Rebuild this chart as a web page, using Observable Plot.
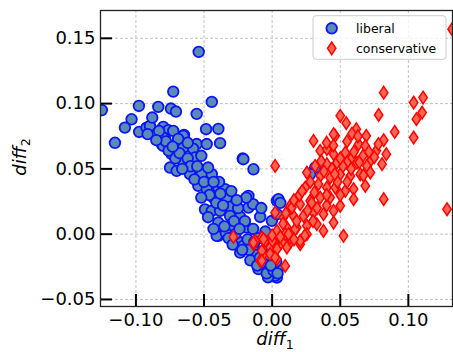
<!DOCTYPE html>
<html>
<head>
<meta charset="utf-8">
<script src="https://cdn.jsdelivr.net/npm/d3@7"></script>
<script src="https://cdn.jsdelivr.net/npm/@observablehq/plot@0.6"></script>
<style>
  html, body { margin: 0; padding: 0; background: white; }
  svg { display: block; }
</style>
</head>
<body>
<div id="chart"></div>
<script>
// ---- data ----
const seriesNames = ["liberal", "conservative"];
const xTicks = [-0.10, -0.05, 0.00, 0.05, 0.10];
const yTicks = [-0.05, 0.00, 0.05, 0.10, 0.15];

const libX = [-0.125,-0.1154,-0.0978,-0.1032,-0.1081,-0.0976,-0.0922,-0.0897,-0.0914,-0.088,
  -0.0836,-0.0743,-0.0706,-0.0726,-0.0539,-0.0443,-0.0554,-0.0799,-0.0762,-0.0726,
  -0.0647,-0.0787,-0.0485,-0.0395,-0.0811,-0.0701,-0.064,-0.0554,-0.048,-0.0382,
  -0.0216,-0.0137,-0.080,-0.080,-0.0737,-0.0701,-0.0652,-0.0652,-0.058,-0.075,
  -0.0701,-0.0652,-0.0566,-0.0603,-0.0517,-0.0443,-0.0211,-0.0542,-0.048,-0.0395,
  -0.0346,-0.0432,-0.0333,-0.0174,-0.0493,-0.0443,-0.0382,-0.0309,-0.0174,-0.0088,
  -0.0235,-0.0309,0.0035,-0.0395,-0.0309,-0.0186,-0.0395,-0.0255,-0.0212,-0.0137,
  -0.0064,-0.0015,-0.004,0.0035,0.0046,-0.0002,-0.0015,0.0022,-0.0064,-0.01,
  -0.0235,-0.0407,0.006,0.0316,0.028,0.0035,0.0022,-0.083,-0.078,-0.076,
  -0.071,-0.068,-0.062,-0.060,-0.066,-0.055,-0.057,-0.050,-0.046,-0.052,
  -0.041,-0.036,-0.047,-0.043,-0.034,-0.028,-0.025,-0.020,-0.014,-0.027,
  -0.018,-0.010,-0.005,-0.012,-0.017,-0.006,0.000,0.002,-0.003,0.004,
  -0.008,0.001,-0.030,-0.039,-0.062,-0.069,-0.047,-0.043,-0.014,-0.008,-0.032,
  -0.022,-0.016,-0.011,-0.004,0.001,0.003,-0.002,-0.013,-0.029,-0.035,
  -0.024,-0.019,-0.026,-0.038,-0.052,-0.073,-0.085,-0.009,-0.001,0.004];
const libY = [0.095,0.070,0.0982,0.0880,0.0816,0.0783,0.0816,0.0829,0.0766,0.0893,
  0.0975,0.0962,0.0939,0.1092,0.1396,0.1013,0.0921,0.0822,0.0796,0.0791,
  0.0760,0.0735,0.0804,0.0806,0.069,0.069,0.069,0.069,0.069,0.0697,
  0.0579,0.0497,0.074,0.0676,0.0613,0.0676,0.0663,0.0753,0.0655,0.051,
  0.0485,0.0548,0.0587,0.0459,0.0459,0.0459,0.0574,0.037,0.0345,0.0357,
  0.0345,0.028,0.028,0.0293,0.019,0.0178,0.0178,0.0209,0.0204,0.0132,
  0.0132,0.014,0.0255,0.0089,0.0064,0.0051,-0.0013,-0.0051,-0.009,-0.009,
  -0.0128,-0.0204,-0.0281,-0.0332,0.0268,0.0102,-0.0306,-0.0319,-0.0243,-0.0268,
  -0.0141,-0.0013,0.024,0.051,0.046,0.0153,-0.0294,0.079,0.071,0.064,
  0.058,0.062,0.058,0.052,0.050,0.052,0.042,0.040,0.030,0.028,
  0.024,0.022,0.013,0.004,0.001,0.010,0.020,0.010,0.004,0.0,
  -0.004,-0.003,0.002,-0.016,-0.012,-0.018,-0.012,-0.024,-0.033,-0.027,
  -0.022,-0.005,0.033,0.040,0.070,0.073,0.051,0.040,0.023,0.020,-0.003,
  -0.012,-0.020,-0.024,-0.030,-0.028,-0.021,-0.016,-0.006,-0.008,0.006,
  0.004,0.028,0.026,0.031,0.060,0.067,0.072,-0.018,-0.024,-0.030];

const conX = [0.0819,0.1039,0.1108,0.1101,0.1059,0.1039,0.050,0.0544,0.0782,0.090,
  0.0618,0.0586,0.0691,0.0463,0.0304,0.0819,0.0635,0.0684,0.0353,0.0402,
  0.0451,0.0537,0.0586,0.0765,0.0838,0.0667,0.0721,0.0022,0.0255,0.0402,
  0.0476,0.055,0.0623,0.0696,0.0807,0.0353,0.0426,0.050,0.0574,0.0647,
  0.0721,0.0243,0.034,0.0402,0.0463,0.0537,0.0598,0.0684,0.0598,0.0819,
  0.1284,0.0132,0.0206,0.0279,0.0353,0.0426,0.050,0.0083,0.0157,0.023,
  0.0304,0.0377,0.0451,0.0451,0.0524,0.0022,0.0035,0.0108,0.0181,0.0255,
  0.0328,0.0377,0.0059,0.0132,0.0206,0.1321,0.0451,0.0316,0.0145,-0.0076,
  -0.0137,-0.0064,-0.0088,-0.0015,0.0022,0.0083,0.0132,0.0206,0.0255,0.0096,
  0.0035,-0.0285,-0.0125,-0.0051,0.0096,0.0169,-0.0076,-0.0015,0.0035,0.0108,
  -0.0076,0.0022,-0.0137,-0.0064,0.0002,0.028,0.031,0.020,0.038,0.044,
  0.048,0.055,0.052,0.060,0.064,0.067,0.058,0.050,0.040,0.033,
  0.026,0.018,0.012,0.008,0.016,0.022,0.040,0.030,0.024,0.0,
  0.045,0.055,0.040,0.063,0.036,0.071,0.075,0.078,0.050,0.046,
  0.029,0.010,0.006,0.016];
const conY = [0.1084,0.1008,0.1046,0.0931,0.0881,0.074,0.0906,0.085,0.0913,0.0783,
  0.0804,0.077,0.0753,0.0753,0.0714,0.072,0.0689,0.0676,0.0638,0.0651,
  0.0613,0.0625,0.0587,0.0638,0.0613,0.060,0.0561,0.0523,0.0472,0.0536,
  0.0548,0.0548,0.0548,0.0523,0.0536,0.0446,0.0433,0.0459,0.0446,0.0459,
  0.0472,0.0357,0.0383,0.0357,0.0357,0.0332,0.0345,0.037,0.0268,0.0268,
  0.0191,0.0217,0.023,0.0255,0.028,0.028,0.0217,0.0127,0.014,0.014,
  0.0165,0.0153,0.0178,0.0089,-0.0013,0.0165,0.0025,0.0051,0.0051,0.0064,
  0.0077,0.0025,-0.0077,-0.0064,-0.0077,0.157,0.0766,0.0523,0.0204,-0.0026,
  -0.0077,-0.0153,-0.0204,-0.0102,-0.0077,-0.0051,-0.0026,-0.0051,0.0,-0.0243,
  -0.0191,-0.0021,-0.0051,-0.0051,0.0,0.0038,-0.0128,-0.0153,-0.0115,-0.0102,
  -0.0204,-0.0179,-0.0064,-0.0038,-0.0051,0.040,0.032,0.030,0.048,0.050,
  0.040,0.040,0.052,0.063,0.055,0.045,0.050,0.030,0.022,0.020,
  0.018,0.010,0.000,0.008,0.026,0.033,0.030,0.010,-0.001,-0.001,
  0.068,0.071,0.070,0.075,0.056,0.063,0.059,0.069,0.058,0.046,
  0.024,0.016,-0.002,-0.004];

const liberal = libX.map((x, i) => ({x, y: libY[i]}));
const conservative = conX.map((x, i) => ({x, y: conY[i]}));

// ---- styles ----
const libFill = "#5b8bb5", libStroke = "#0a14ff";
const conFill = "#fa6450", conStroke = "#ff0000";
const fmt = d3.format(".2f");

const thinDiamond = {
  draw(ctx, size) {
    const r = Math.sqrt(size / Math.PI);
    const w = r * 0.7, h = r * 1.05;
    ctx.moveTo(0, -h); ctx.lineTo(w, 0); ctx.lineTo(0, h); ctx.lineTo(-w, 0); ctx.closePath();
  }
};

const W = 453, H = 352, mL = 100, mR = 1, mT = 10, mB = 46;
const plotH = H - mT - mB, plotW = W - mL - mR;
const gridStyle = {stroke: "#b0b0b0", strokeOpacity: 1, strokeDasharray: "3,2", strokeWidth: 0.8};

const chart = Plot.plot({
  width: W, height: H,
  marginLeft: mL, marginRight: mR, marginTop: mT, marginBottom: mB,
  style: {fontFamily: "DejaVu Sans", fontSize: "18px", background: "white", color: "black"},
  x: {domain: [-0.126, 0.1324], label: null},
  y: {domain: [-0.0554, 0.1713], label: null},
  marks: [
    Plot.gridX(xTicks, gridStyle),
    Plot.gridY(yTicks, gridStyle),
    Plot.dot(liberal, {x: "x", y: "y", r: 5.3, fill: libFill, stroke: libStroke, strokeWidth: 1.8, clip: true}),
    Plot.dot(conservative, {x: "x", y: "y", r: 6, symbol: thinDiamond, fill: conFill, stroke: conStroke, strokeWidth: 1.5, clip: true}),
    Plot.tickX(xTicks, {x: d => d, insetTop: plotH - 12, stroke: "black", strokeWidth: 2}),
    Plot.tickY(yTicks, {y: d => d, insetRight: plotW - 12, stroke: "black", strokeWidth: 2}),
    Plot.axisX(xTicks, {tickSize: 0, tickPadding: 7, tickFormat: fmt, fontSize: 18, fill: "black"}),
    Plot.axisY(yTicks, {tickSize: 0, tickPadding: 5, tickFormat: fmt, fontSize: 18, fill: "black"}),
    Plot.frame({stroke: "#222", strokeWidth: 1.3})
  ]
});

document.getElementById("chart").appendChild(chart);

// ---- axis labels and legend ----
const svg = d3.select(chart);
const xl = svg.append("text").attr("x", 275).attr("y", 345)
  .attr("text-anchor", "middle").attr("font-size", 18).attr("font-style", "italic")
  .attr("font-family", "DejaVu Sans").attr("fill", "black");
xl.append("tspan").text("diff");
xl.append("tspan").attr("font-size", 12.6).attr("dy", 4).attr("font-style", "normal").text("1");

const yl = svg.append("text").attr("transform", "translate(26,157) rotate(-90)")
  .attr("text-anchor", "middle").attr("font-size", 18).attr("font-style", "italic")
  .attr("font-family", "DejaVu Sans").attr("fill", "black");
yl.append("tspan").text("diff");
yl.append("tspan").attr("font-size", 12.6).attr("dy", 4).attr("font-style", "normal").text("2");

const lg = svg.append("g").attr("text-anchor", "start");
lg.append("rect").attr("x", 313).attr("y", 15.7).attr("width", 133).attr("height", 43.6)
  .attr("rx", 3).attr("fill", "white").attr("fill-opacity", 0.8).attr("stroke", "#cccccc");
lg.append("circle").attr("cx", 331.7).attr("cy", 28.3).attr("r", 5.3)
  .attr("fill", libFill).attr("stroke", libStroke).attr("stroke-width", 1.8);
lg.append("path").attr("transform", "translate(331.7,48.3)")
  .attr("d", d3.symbol(thinDiamond, Math.PI * 36)())
  .attr("fill", conFill).attr("stroke", conStroke).attr("stroke-width", 1.5);
lg.append("text").attr("x", 356).attr("y", 32.5).attr("font-size", 12.5).attr("text-anchor", "start")
  .attr("font-family", "DejaVu Sans").attr("fill", "black").text(seriesNames[0]);
lg.append("text").attr("x", 356).attr("y", 52.5).attr("font-size", 12.5).attr("text-anchor", "start")
  .attr("font-family", "DejaVu Sans").attr("fill", "black").text(seriesNames[1]);
</script>
</body>
</html>
